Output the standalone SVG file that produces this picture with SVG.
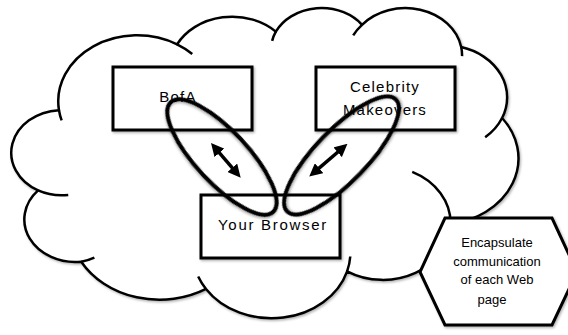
<svg xmlns="http://www.w3.org/2000/svg" width="568" height="335" viewBox="0 0 568 335">
  <defs>
    <filter id="sh" x="-10%" y="-10%" width="120%" height="120%">
      <feDropShadow dx="1.2" dy="1.5" stdDeviation="1" flood-color="#000" flood-opacity="0.3"/>
    </filter>
    <marker id="ah" viewBox="0 0 13 13" refX="5" refY="6.5" markerWidth="13" markerHeight="13" markerUnits="userSpaceOnUse" orient="auto-start-reverse">
      <path d="M0,0 L13,6.5 L0,13 Z" fill="#000"/>
    </marker>
    <style>
      .cloud { fill: #fff; stroke: #000; stroke-width: 2.5; stroke-linejoin: round; }
      .inner { fill: none; stroke: #000; stroke-width: 2.5; stroke-linecap: butt; }
      .box { fill: #fff; stroke: #000; stroke-width: 3; }
      .oval { fill: none; stroke: #000; stroke-width: 4; }
      .hex { fill: #fff; stroke: #000; stroke-width: 3; stroke-linejoin: miter; }
      .lbl { font-family: "Liberation Sans", Arial, sans-serif; font-size: 15px; fill: #000; text-anchor: middle; letter-spacing: 1.2px; }
      .hlbl { font-family: "Liberation Sans", Arial, sans-serif; font-size: 13px; fill: #000; text-anchor: middle; }
      .arr { stroke: #000; stroke-width: 3.5; fill: none; marker-start: url(#ah); marker-end: url(#ah); }
    </style>
  </defs>
  <rect width="568" height="335" fill="#fff"/>

  <g id="cloud" filter="url(#sh)">
    <path class="cloud" d="M 58.98 110.18 A 78.92 65.98 0 0 1 177.06 44.35 A 62.32 52.18 0 0 1 275.82 31.64 A 51.01 42.69 0 0 1 362.03 24.81 A 56.76 47.35 0 0 1 461.19 47.04 A 62.32 52.22 0 0 1 502.09 118.00 A 79.17 66.20 0 0 1 450.51 223.86 A 67.60 56.48 0 0 1 347.11 271.32 A 78.90 66.16 0 0 1 205.99 288.92 A 90.22 75.70 0 0 1 81.24 261.68 A 50.95 42.49 0 0 1 38.10 190.44 A 50.78 42.69 0 0 1 58.98 110.18 Z"/>
    <path class="inner" d="M 68.24 194.95 A 50.78 42.69 0 0 1 38.10 190.44 M 94.36 257.57 A 50.95 42.49 0 0 1 81.24 261.68 M 205.99 288.92 A 78.90 66.16 0 0 1 198.19 276.43 M 350.27 256.51 A 78.90 66.16 0 0 1 347.11 271.32 M 412.23 171.81 A 67.60 56.48 0 0 1 450.51 223.86 M 502.09 118.00 A 62.32 52.22 0 0 1 485.17 137.21 M 461.19 47.04 A 56.76 47.35 0 0 1 462.08 56.11 M 353.21 35.38 A 56.76 47.35 0 0 1 362.03 24.81 M 272.14 40.89 A 51.01 42.69 0 0 1 275.82 31.64 M 177.06 44.35 A 78.92 65.98 0 0 1 192.24 54.01 M 61.63 120.37 A 78.92 65.98 0 0 1 58.98 110.18"/>
  </g>

  <g id="bofa">
    <rect class="box" x="113" y="67" width="139" height="63" filter="url(#sh)"/>
    <text class="lbl" x="178" y="102">BofA</text>
  </g>

  <g id="celebrity">
    <rect class="box" x="316" y="67" width="139" height="63" filter="url(#sh)"/>
    <text class="lbl" x="385" y="92">Celebrity</text>
    <text class="lbl" x="385" y="115">Makeovers</text>
  </g>

  <g id="browser">
    <rect class="box" x="201" y="195" width="139" height="63" filter="url(#sh)"/>
    <text class="lbl" x="273" y="230" style="letter-spacing:1.7px">Your Browser</text>
  </g>

  <g id="channel-left">
    <ellipse class="oval" cx="222" cy="157" rx="75" ry="26" transform="rotate(47 222 157)" filter="url(#sh)"/>
  </g>
  <g id="channel-right">
    <ellipse class="oval" cx="341.5" cy="155.5" rx="78" ry="26" transform="rotate(-46 341.5 155.5)" filter="url(#sh)"/>
  </g>

  <g id="connectors">
    <line class="arr" x1="216.2" y1="149.1" x2="235.5" y2="171.6"/>
    <line class="arr" x1="315.3" y1="171.4" x2="341.4" y2="149.0"/>
  </g>

  <g id="note">
    <polygon class="hex" points="445,218 552,218 577,272 552,325 445,325 420,272" filter="url(#sh)"/>
    <text class="hlbl" x="497" y="247">Encapsulate</text>
    <text class="hlbl" x="497" y="266">communication</text>
    <text class="hlbl" x="497" y="284">of each Web</text>
    <text class="hlbl" x="492" y="304">page</text>
  </g>
</svg>
